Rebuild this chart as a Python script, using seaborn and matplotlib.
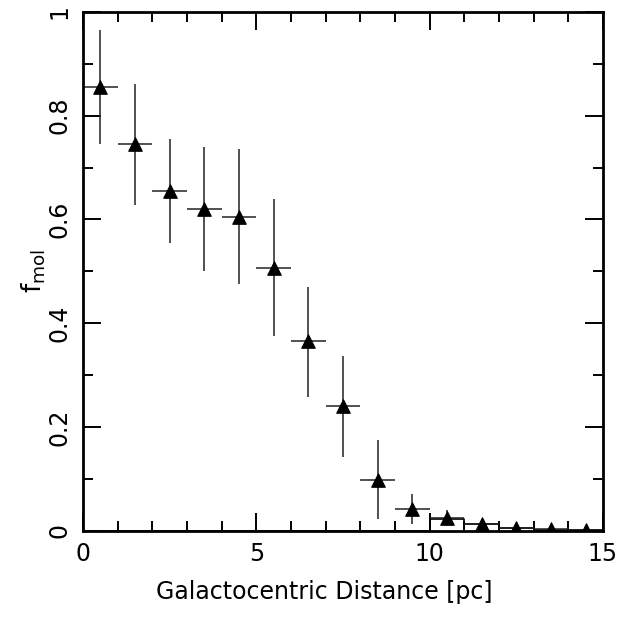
import numpy as np
import pandas as pd
import matplotlib
matplotlib.use("Agg")
import matplotlib.pyplot as plt
from matplotlib.ticker import MultipleLocator, FuncFormatter
import seaborn as sns

# Data
r_center = [0.5, 1.5, 2.5, 3.5, 4.5, 5.5, 6.5, 7.5, 8.5, 9.5, 10.5, 11.5, 12.5, 13.5, 14.5]
f_mol = [0.855, 0.745, 0.655, 0.620, 0.605, 0.507, 0.365, 0.240, 0.098, 0.042, 0.025, 0.013, 0.006, 0.003, 0.002]
err_up = [0.110, 0.115, 0.100, 0.120, 0.130, 0.133, 0.105, 0.097, 0.077, 0.028, 0.015, 0.007, 0.002, 0.001, 0.001]
err_lo = [0.110, 0.118, 0.100, 0.120, 0.130, 0.132, 0.108, 0.097, 0.076, 0.029, 0.015, 0.007, 0.003, 0.001, 0.001]
bin_half = [0.5] * 15
hist_vals = [0, 0, 0, 0, 0, 0, 0, 0, 0, 0, 0.023, 0.013, 0.005, 0.002, 0.001]
bin_edges = list(range(16))

df = pd.DataFrame({"r": r_center, "fmol": f_mol})

sns.set_style("ticks")
plt.rcParams["font.family"] = ["DejaVu Sans"]
plt.rcParams["text.color"] = "black"
plt.rcParams["axes.labelcolor"] = "black"
plt.rcParams["xtick.color"] = "black"
plt.rcParams["ytick.color"] = "black"

fig = plt.figure(figsize=(6.19, 6.23), dpi=100)
ax = fig.add_axes([0.134, 0.148, 0.840, 0.833])

# step histogram
sns.histplot(x=r_center, weights=hist_vals, bins=bin_edges, element="step",
             fill=False, color="black", linewidth=1.2, ax=ax)

# error bars
ax.errorbar(r_center, f_mol, xerr=bin_half, yerr=[err_lo, err_up], fmt="none",
            ecolor="#222222", elinewidth=1.1, capsize=0)

# points
sns.scatterplot(data=df, x="r", y="fmol", marker="^", s=95, color="black",
                edgecolor="black", zorder=5, ax=ax)

ax.set_xlim(0, 15)
ax.set_ylim(0, 1)
ax.xaxis.set_major_locator(MultipleLocator(5))
ax.xaxis.set_minor_locator(MultipleLocator(1))
ax.yaxis.set_major_locator(MultipleLocator(0.2))
ax.yaxis.set_minor_locator(MultipleLocator(0.1))
ax.yaxis.set_major_formatter(FuncFormatter(lambda v, p: f"{v:g}"))
ax.tick_params(which="both", direction="in", top=True, right=True, width=1.4, labelsize=17, pad=8)
ax.tick_params(which="major", length=13)
ax.tick_params(which="minor", length=7)
for lab in ax.get_yticklabels():
    lab.set_rotation(90)
    lab.set_va("center")
for sp in ax.spines.values():
    sp.set_linewidth(2)
    sp.set_color("black")

ax.set_xlabel("Galactocentric Distance [pc]", fontsize=17)
ax.set_ylabel(r"f$_{\rm mol}$", fontsize=19)
ax.xaxis.set_label_coords(0.465, -0.095)
ax.yaxis.set_label_coords(-0.068, 0.5)

fig.savefig("out.png", dpi=100)
